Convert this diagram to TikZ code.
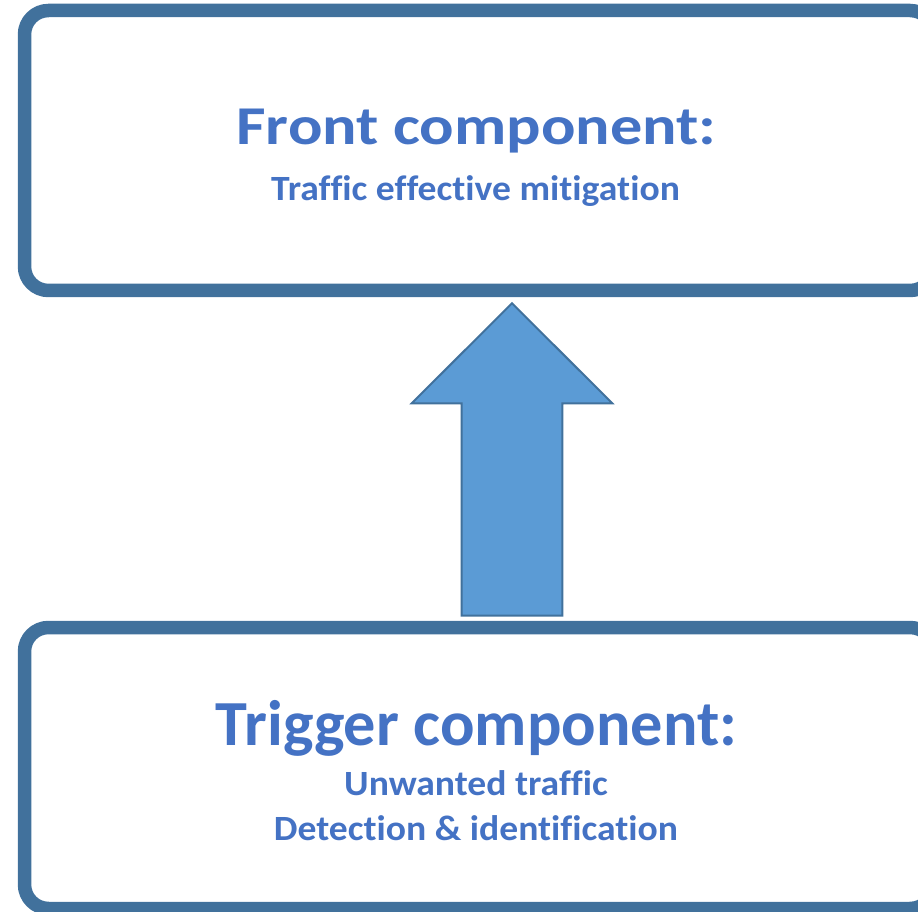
\documentclass[tikz,border=0pt]{standalone}
\usepackage{fontspec}
\setmainfont{Carlito}[Ligatures=NoCommon]
\usepackage{tikz}
\usetikzlibrary{calc}
\definecolor{BoxLine}{HTML}{41719C}
\definecolor{ArrowFill}{HTML}{5B9BD5}
\definecolor{TextBlue}{HTML}{4472C4}
\newcommand{\wide}[2]{\bfseries\fontsize{#1}{#1}\selectfont\addfontfeature{FakeStretch=#2}}

\begin{document}
\begin{tikzpicture}[x=1pt, y=1pt]
        \def\bdraw{BoxLine}
        \def\afill{ArrowFill}
        \def\tcol{TextBlue}
        \def\corner{24pt}
        \def\shaft{50.3}
        \def\head{100.3}
        \tikzset{
            compbox/.style={draw=\bdraw, line width=13.5pt, rounded corners=\corner,
                minimum width=909.5pt, inner sep=0pt},
            label/.style={text=\tcol, anchor=base, inner sep=0pt},
            sublabel/.style={label, font=\wide{35.5}{1.06}}
        }
        \useasboundingbox (0,0) rectangle (918,911);

        \node[compbox, minimum height=280pt] (front) at (479.25, 760.5) {};
        \node[compbox, minimum height=281pt] (trigger) at (479.25, 143) {};

        \node[label, font=\wide{54.7}{1.175}] (fronttitle) at (476.5, 766) {Front component:};
        \node[sublabel] (frontsub) at (475.5, 710) {Traffic effective mitigation};
        \node[label, font=\wide{64.3}{1}] (triggertitle) at (476.5, 166) {Trigger component:};
        \node[sublabel] (triggersub) at (476, 116) {Unwanted traffic};
        \node[sublabel] (triggersubb) at (476, 71) {Detection \& identification};

        % block arrow from trigger up to front
        \coordinate (tail) at (512, 295.3);
        \coordinate (tip) at (512, 607.7);
        \draw[fill=\afill, draw=\bdraw, line width=2pt, line join=miter]
            ($(tail)+(-\shaft,0)$) -- ($(tip)+(-\shaft,-100)$) -- ($(tip)+(-\head,-100)$)
            -- (tip) -- ($(tip)+(\head,-100)$) -- ($(tip)+(\shaft,-100)$)
            -- ($(tail)+(\shaft,0)$) -- cycle;
    \end{tikzpicture}
\end{document}
